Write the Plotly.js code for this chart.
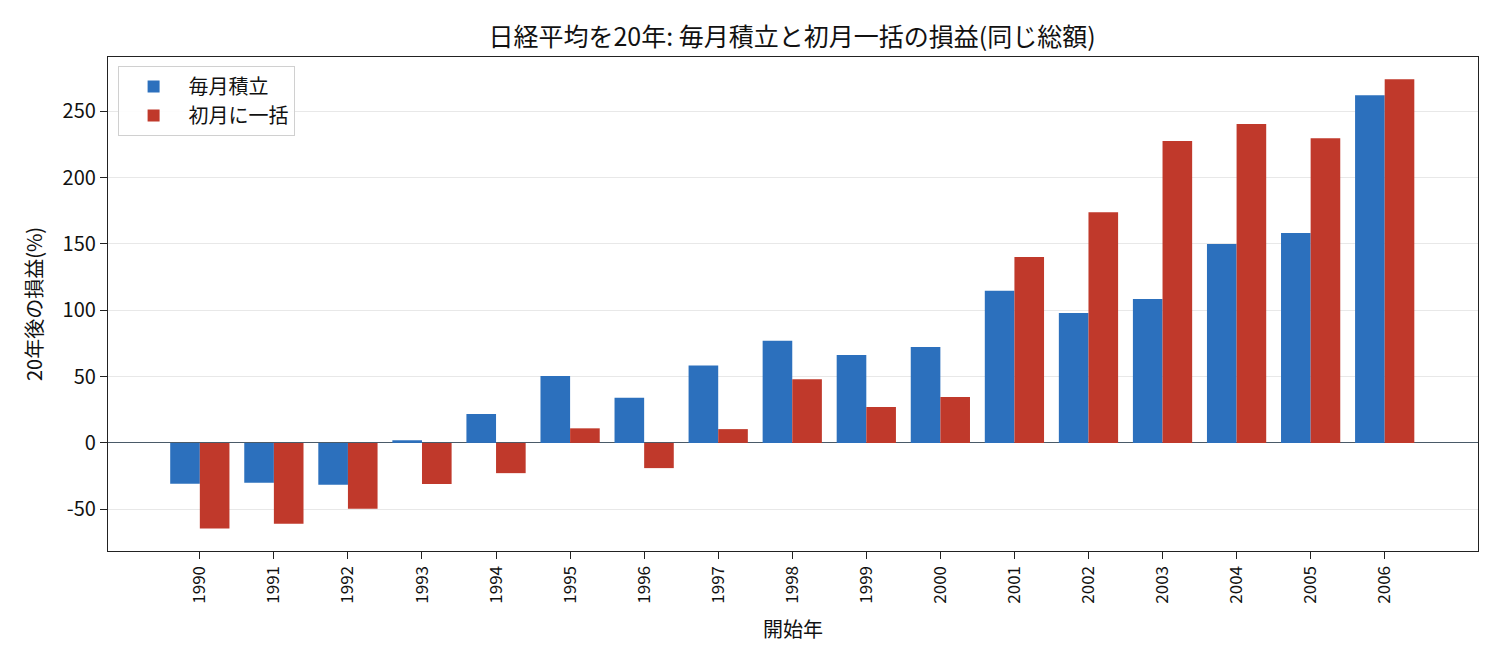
<!DOCTYPE html>
<html>
<head>
<meta charset="utf-8">
<script src="https://cdn.plot.ly/plotly-3.0.1.min.js"></script>
<style>
  html, body { margin: 0; padding: 0; background: #fff; }
  #chart { width: 1500px; height: 660px; }
</style>
</head>
<body>
<div id="chart"></div>
<script>
// 開始年
const years = ['1990', '1991', '1992', '1993', '1994', '1995', '1996', '1997', '1998',
               '1999', '2000', '2001', '2002', '2003', '2004', '2005', '2006'];
// 毎月積立の損益(%)
const monthly = [-30.8, -30, -31.5, 2, 21.8, 50.5, 34, 58.4, 77, 66.3, 72.4,
                 114.8, 98, 108.5, 150, 158.3, 262.2];
// 初月に一括の損益(%)
const lumpSum = [-64.5, -61, -49.7, -31, -22.8, 11, -19, 10.4, 48, 27, 34.7,
                 140.2, 174, 227.6, 240.4, 229.8, 274.3];
const yTicks = [-50, 0, 50, 100, 150, 200, 250];

const font = 'Noto Sans CJK JP, Noto Sans, sans-serif';

const data = [
    {
        x: years,
        y: monthly,
        name: '毎月積立',
        type: 'bar',
        marker: { color: '#2c70bd' }
    },
    {
        x: years,
        y: lumpSum,
        name: '初月に一括',
        type: 'bar',
        marker: { color: '#c0392b' }
    }
];

const layout = {
    width: 1500,
    height: 660,
    paper_bgcolor: '#fff',
    plot_bgcolor: '#fff',
    font: { family: font, color: '#111', size: 19 },
    margin: { t: 57, r: 22, b: 109, l: 108 },
    barmode: 'group',
    bargap: 0.2,
    bargroupgap: 0,
    showlegend: true,
    legend: {
        x: 0.007, y: 0.982,
        xanchor: 'left', yanchor: 'top',
        bgcolor: 'rgba(255,255,255,0.9)',
        bordercolor: '#d0d0d0',
        borderwidth: 1,
        font: { size: 20, family: font },
        itemwidth: 60,
        tracegroupgap: 2
    },
    title: {
        text: '日経平均を20年: 毎月積立と初月一括の損益(同じ総額)',
        font: { size: 25, family: font },
        x: 0.528, xanchor: 'center',
        y: 0.944, yanchor: 'middle'
    },
    xaxis: {
        type: 'category',
        range: [-1.24, 17.26],
        tickangle: -90,
        tickfont: { size: 17 },
        ticks: 'outside',
        ticklen: 7,
        tickcolor: '#222',
        showline: true,
        linecolor: '#222',
        linewidth: 1.3,
        mirror: true,
        showgrid: false,
        title: { text: '開始年', font: { size: 20 }, standoff: 20 }
    },
    yaxis: {
        range: [-81.5, 291],
        tickvals: yTicks,
        ticktext: yTicks.map(String),
        tickfont: { size: 20 },
        ticks: 'outside',
        ticklen: 7,
        tickcolor: '#222',
        showline: true,
        linecolor: '#222',
        linewidth: 1.3,
        mirror: true,
        showgrid: true,
        gridcolor: '#e8e8e8',
        gridwidth: 1.3,
        zeroline: true,
        zerolinecolor: '#4a5a68',
        zerolinewidth: 1.3,
        title: { text: '20年後の損益(%)', font: { size: 20 }, standoff: 14 }
    }
};

Plotly.newPlot('chart', data, layout, { displayModeBar: false, responsive: false });
</script>
</body>
</html>
